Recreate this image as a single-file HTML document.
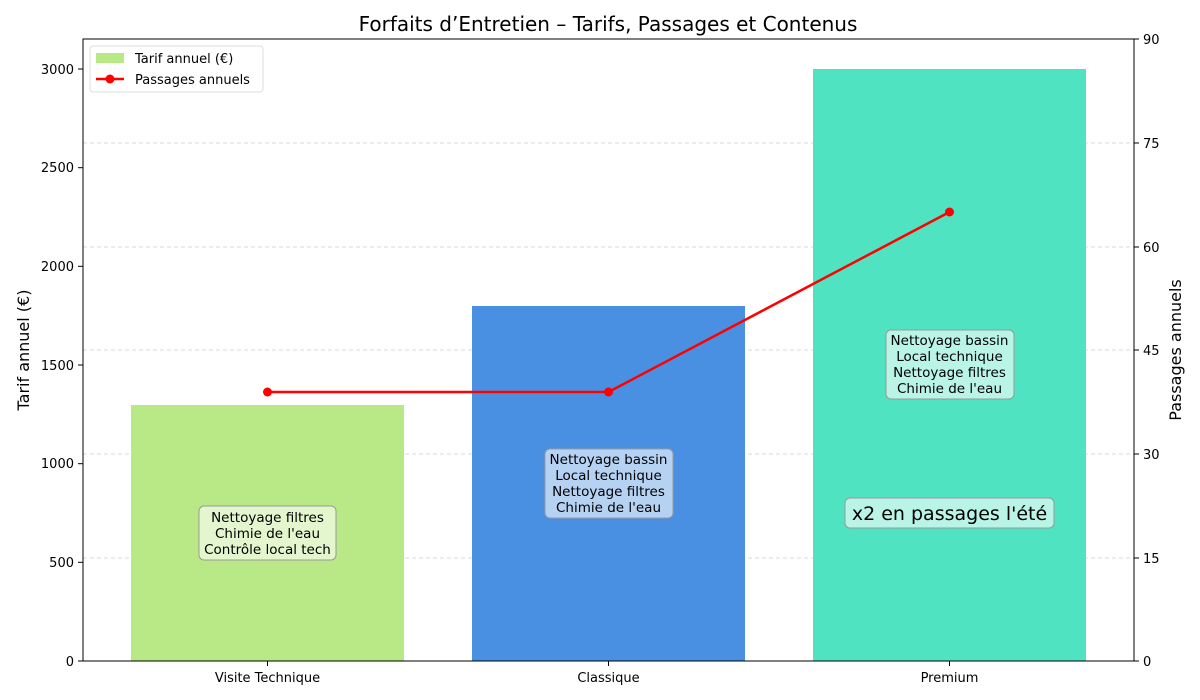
<!DOCTYPE html>
<html><head><meta charset="utf-8"><style>body{margin:0;background:#fff}svg{display:block}text{font-family:"DejaVu Sans","Liberation Sans",sans-serif;fill:#000}</style></head><body>
<svg width="1200" height="700" viewBox="0 0 1200 700" xmlns="http://www.w3.org/2000/svg">
<rect width="1200" height="700" fill="#fff"/>
<text x="608" y="31" font-size="20" text-anchor="middle">Forfaits d’Entretien – Tarifs, Passages et Contenus</text>
<g stroke="#ccc" stroke-width="0.8" stroke-dasharray="4,3">
<line x1="83" x2="1134" y1="143" y2="143"/><line x1="83" x2="1134" y1="247" y2="247"/><line x1="83" x2="1134" y1="350" y2="350"/><line x1="83" x2="1134" y1="454" y2="454"/><line x1="83" x2="1134" y1="558" y2="558"/>
</g>
<rect x="131" y="405" width="273" height="256" fill="#b9e986"/>
<rect x="472" y="306" width="273" height="355" fill="#4a90e2"/>
<rect x="813" y="69" width="273" height="592" fill="#50e3c2"/>
<g font-size="13.5" text-anchor="middle">
<rect x="199" y="506" width="137" height="54" rx="5" fill="#fff" fill-opacity="0.6" stroke="#999"/>
<text x="267.5" y="522">Nettoyage filtres</text><text x="267.5" y="538">Chimie de l'eau</text><text x="267.5" y="554">Contrôle local tech</text>
<rect x="545" y="449" width="128" height="69" rx="5" fill="#fff" fill-opacity="0.6" stroke="#999"/>
<text x="608.5" y="464">Nettoyage bassin</text><text x="608.5" y="480">Local technique</text><text x="608.5" y="496">Nettoyage filtres</text><text x="608.5" y="512">Chimie de l'eau</text>
<rect x="886" y="330" width="128" height="69" rx="5" fill="#fff" fill-opacity="0.6" stroke="#999"/>
<text x="949.5" y="345">Nettoyage bassin</text><text x="949.5" y="361">Local technique</text><text x="949.5" y="377">Nettoyage filtres</text><text x="949.5" y="393">Chimie de l'eau</text>
<rect x="845" y="498" width="209" height="30" rx="5" fill="#fff" fill-opacity="0.6" stroke="#999"/>
<text x="949.5" y="520" font-size="19">x2 en passages l'été</text>
</g>
<polyline points="267.5,392 608.5,392 949.5,212" fill="none" stroke="#f00" stroke-width="2.5"/>
<circle cx="267.5" cy="392" r="4.5" fill="#f00"/><circle cx="608.5" cy="392" r="4.5" fill="#f00"/><circle cx="949.5" cy="212" r="4.5" fill="#f00"/>
<rect x="83" y="39" width="1051" height="622" fill="none" stroke="#000" stroke-width="1"/>
<g stroke="#000"><line x1="78" x2="83" y1="661" y2="661"/><line x1="78" x2="83" y1="562.3" y2="562.3"/><line x1="78" x2="83" y1="463.7" y2="463.7"/><line x1="78" x2="83" y1="365" y2="365"/><line x1="78" x2="83" y1="266.3" y2="266.3"/><line x1="78" x2="83" y1="167.7" y2="167.7"/><line x1="78" x2="83" y1="69" y2="69"/>
<line x1="1134" x2="1139" y1="661" y2="661"/><line x1="1134" x2="1139" y1="558" y2="558"/><line x1="1134" x2="1139" y1="454" y2="454"/><line x1="1134" x2="1139" y1="350" y2="350"/><line x1="1134" x2="1139" y1="247" y2="247"/><line x1="1134" x2="1139" y1="143" y2="143"/><line x1="1134" x2="1139" y1="39" y2="39"/>
<line x1="267.5" x2="267.5" y1="661" y2="666"/><line x1="608.5" x2="608.5" y1="661" y2="666"/><line x1="949.5" x2="949.5" y1="661" y2="666"/></g>
<g font-size="13" text-anchor="end"><text x="74" y="666">0</text><text x="74" y="567">500</text><text x="74" y="468">1000</text><text x="74" y="370">1500</text><text x="74" y="271">2000</text><text x="74" y="172">2500</text><text x="74" y="74">3000</text></g>
<g font-size="13"><text x="1143" y="666">0</text><text x="1143" y="563">15</text><text x="1143" y="459">30</text><text x="1143" y="355">45</text><text x="1143" y="252">60</text><text x="1143" y="148">75</text><text x="1143" y="44">90</text></g>
<g font-size="13" text-anchor="middle"><text x="267.5" y="682">Visite Technique</text><text x="608.5" y="682">Classique</text><text x="949.5" y="682">Premium</text></g>
<text transform="translate(29,350) rotate(-90)" font-size="16" text-anchor="middle">Tarif annuel (€)</text>
<text transform="translate(1181,350) rotate(-90)" font-size="16" text-anchor="middle">Passages annuels</text>
<rect x="90" y="46" width="173" height="46" rx="3" fill="#fff" fill-opacity="0.8" stroke="#ddd"/>
<rect x="96" y="53" width="28" height="10" fill="#b9e986"/>
<text x="135" y="63" font-size="13">Tarif annuel (€)</text>
<line x1="96" x2="124" y1="79" y2="79" stroke="#f00" stroke-width="2.5"/><circle cx="110" cy="79" r="4.5" fill="#f00"/>
<text x="135" y="84" font-size="13">Passages annuels</text>
</svg>
</body></html>
